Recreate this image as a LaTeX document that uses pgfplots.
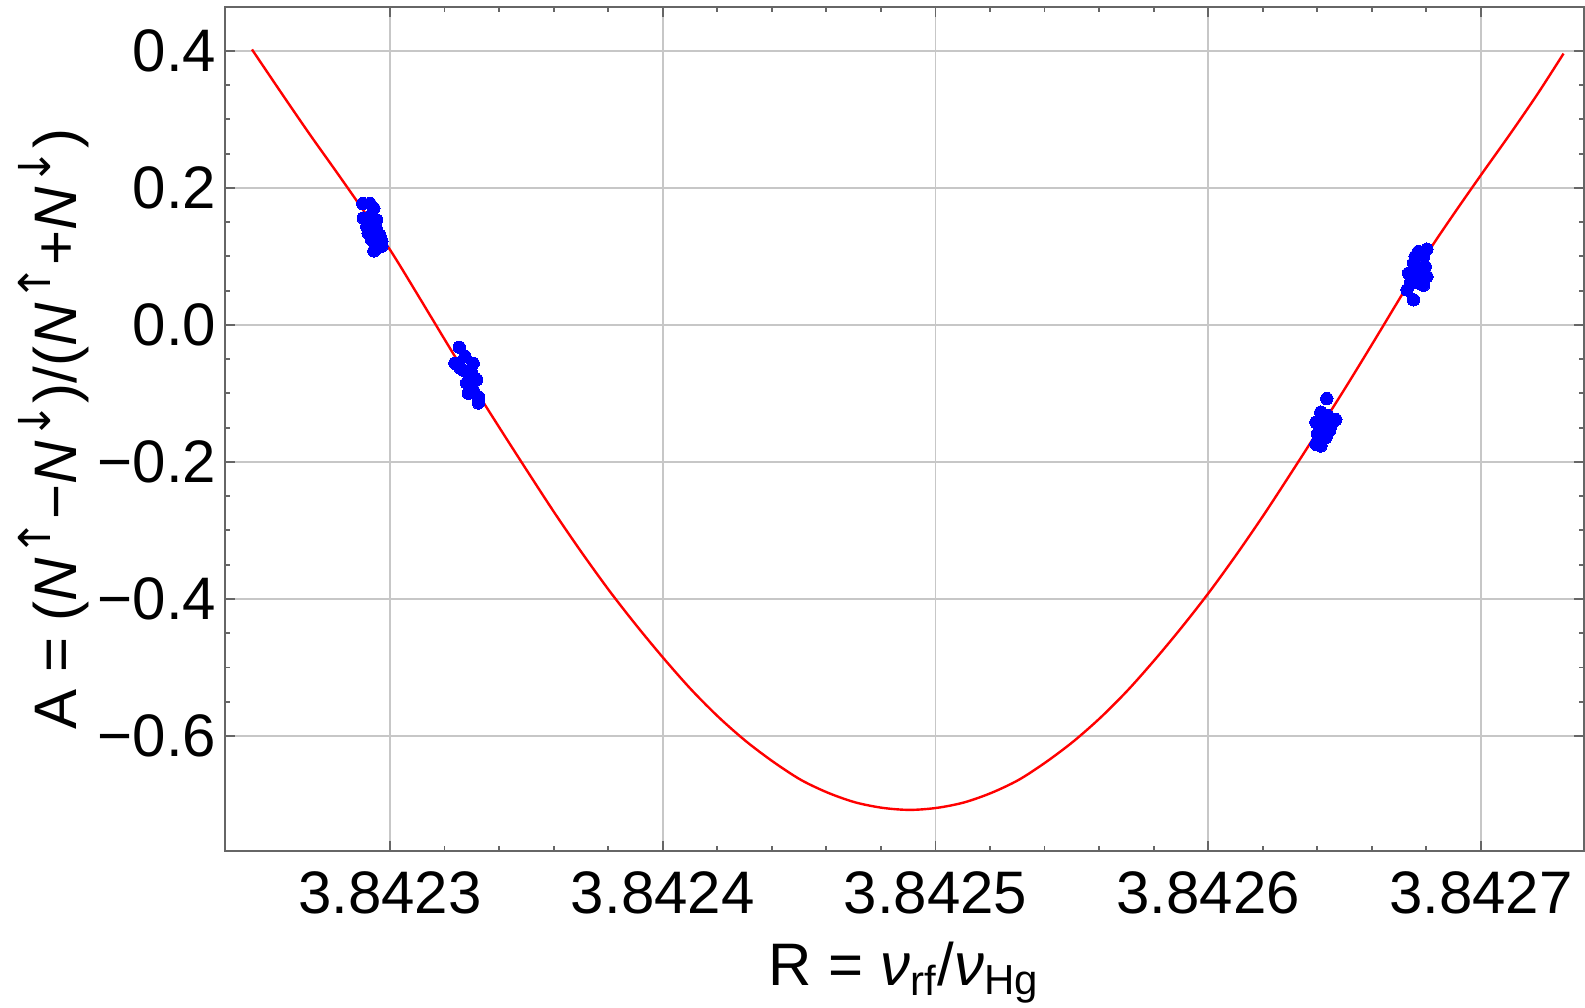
\documentclass[border=0pt]{standalone}
\usepackage{fontspec}
\setmainfont{Liberation Sans}
\newfontfamily\arrowfont{DejaVu Sans}
\usepackage{pgfplots}
\pgfplotsset{compat=1.18}
\definecolor{axisgray}{gray}{0.4}
\definecolor{gridgray}{gray}{0.78}
\newcommand\Nup{\textit{N}\kern0.3pt\raisebox{6.6pt}{\fontsize{11}{11}\arrowfont ↑}}
\newcommand\Ndn{\textit{N}\kern0.3pt\raisebox{6.6pt}{\fontsize{11}{11}\arrowfont ↓}}
% R values keep all their digits; pgfplots' float precision is too coarse for them,
% so the x coordinate is stripped of the common prefix 3.842 as a string:
% 3.8424906 -> 0.4906 (axis units are 1e-3 above 3.842).
\makeatletter
\newcommand\Rtrafo[1]{\edef\R@tmp{#1}\expandafter\R@check\expandafter{\R@tmp}}
\def\R@check#1{\in@{3.842}{#1}\ifin@\R@strip#1\R@stop\else\def\pgfmathresult{#1}\fi}
\def\R@strip3.842#1\R@stop{\def\pgfmathresult{0.#1}}
\makeatother
\begin{document}
\begin{tikzpicture}
\path[use as bounding box] (-56.25pt,-39pt) rectangle (340pt,212.75pt);
\begin{axis}[
  x coord trafo/.code={\Rtrafo{#1}},
  scale only axis, width=339.75pt, height=211pt,
  at={(0pt,0pt)}, anchor=south west,
  xmin=0.2395, xmax=0.7378, % R = 3.8422395 ... 3.8427378
  ymin=-0.768, ymax=0.464,
  xtick={0.3,0.4,0.5,0.6,0.7},
  xticklabels={3.8423,3.8424,3.8425,3.8426,3.8427},
  ytick={-0.6,-0.4,-0.2,0,0.2,0.4},
  yticklabels={−0.6,−0.4,−0.2,0.0,0.2,0.4},
  minor x tick num=4, minor y tick num=3,
  tick align=inside,
  major tick length=2.4pt, minor tick length=1.3pt,
  axis line style={draw=axisgray, line width=0.45pt},
  every tick/.style={draw=axisgray, line width=0.45pt},
  grid=major, major grid style={draw=gridgray, line width=0.45pt},
  tick label style={font=\fontsize{15}{18}\selectfont, text=black},
  xticklabel style={inner sep=0pt, yshift=-5pt},
  yticklabel style={inner sep=0pt, xshift=-2pt},
  label style={font=\fontsize{15}{18}\selectfont},
  xlabel={R = \textit{ν}\textsubscript{rf}/\textit{ν}\textsubscript{Hg}},
  ylabel={A = (\Nup−\Ndn)/(\Nup+\Ndn)},
  xlabel style={at={(axis description cs:0.5,-0.1588)}, anchor=base},
  ylabel style={at={(axis description cs:-0.1089,0.5)}, anchor=base},
]
\addplot[red, line width=0.6pt, smooth] table[x=R, y=A] {
R A
3.8422494 0.402
3.8422606 0.336
3.8422706 0.278
3.8422806 0.222
3.8422906 0.165
3.8423006 0.106
3.8423106 0.041
3.8423206 -0.025
3.8423306 -0.090
3.8423406 -0.153
3.8423506 -0.215
3.8423606 -0.276
3.8423706 -0.334
3.8423806 -0.389
3.8423906 -0.440
3.8424006 -0.488
3.8424106 -0.533
3.8424206 -0.573
3.8424306 -0.608
3.8424406 -0.638
3.8424506 -0.664
3.8424606 -0.683
3.8424706 -0.697
3.8424806 -0.705
3.8424906 -0.708
3.8425006 -0.705
3.8425106 -0.697
3.8425206 -0.683
3.8425306 -0.664
3.8425406 -0.638
3.8425506 -0.608
3.8425606 -0.573
3.8425706 -0.533
3.8425806 -0.488
3.8425906 -0.440
3.8426006 -0.389
3.8426106 -0.334
3.8426206 -0.276
3.8426306 -0.215
3.8426406 -0.153
3.8426506 -0.090
3.8426606 -0.025
3.8426706 0.041
3.8426806 0.106
3.8426906 0.165
3.8427006 0.222
3.8427106 0.278
3.8427206 0.336
3.8427303 0.396
};
\addplot[only marks, mark=*, mark size=1.55pt, color=blue, mark options={fill=blue, draw=blue, line width=0pt}] table[x=R, y=A] {
R A
3.8422900 0.177
3.8422927 0.177
3.8422941 0.170
3.8422902 0.156
3.8422933 0.161
3.8422951 0.153
3.8422915 0.1435
3.8422951 0.139
3.8422920 0.134
3.8422963 0.131
3.8422933 0.124
3.8422970 0.122
3.8422951 0.112
3.8422941 0.108
3.8422970 0.115
3.8423254 -0.0326
3.8423238 -0.056
3.8423275 -0.046
3.8423305 -0.056
3.8423269 -0.066
3.8423300 -0.0705
3.8423318 -0.080
3.8423281 -0.085
3.8423305 -0.095
3.8423324 -0.105
3.8423287 -0.0997
3.8423324 -0.114
3.8423257 -0.063
3.8423293 -0.077
3.8426435 -0.1077
3.8426413 -0.1274
3.8426438 -0.1323
3.8426468 -0.1383
3.8426395 -0.1422
3.8426425 -0.1447
3.8426450 -0.1472
3.8426401 -0.1595
3.8426432 -0.1644
3.8426395 -0.1743
3.8426413 -0.1768
3.8426419 -0.1669
3.8426444 -0.1546
3.8426802 0.1105
3.8426771 0.107
3.8426759 0.0997
3.8426790 0.0997
3.8426753 0.090
3.8426796 0.085
3.8426735 0.0755
3.8426765 0.078
3.8426802 0.0705
3.8426741 0.061
3.8426771 0.061
3.8426790 0.058
3.8426729 0.051
3.8426753 0.0365
3.8426777 0.068
};
\end{axis}
\end{tikzpicture}
\end{document}
